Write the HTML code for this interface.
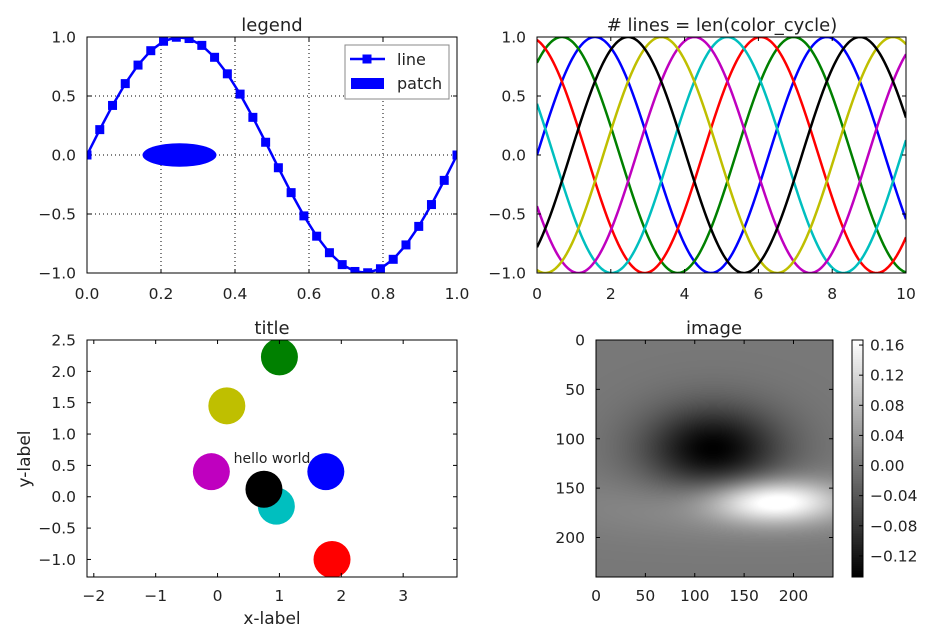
<!DOCTYPE html>
<html><head><meta charset="utf-8"><style>
html,body{margin:0;padding:0;background:#fff;}
body{width:930px;height:642px;position:relative;overflow:hidden;font-family:"DejaVu Sans","Liberation Sans",sans-serif;}
svg{position:absolute;left:0;top:0;}
canvas{position:absolute;}
text{font-family:"DejaVu Sans","Liberation Sans",sans-serif;fill:#222;}
</style></head><body>
<canvas id="heat" width="237" height="237" style="left:596px;top:340px;width:237px;height:237px"></canvas>
<canvas id="cbar" width="11" height="237" style="left:852px;top:340px;width:11px;height:237px"></canvas>
<svg id="fig" width="930" height="642"></svg>
<script>
// ---- data ----
const sineX = [0,0.0345,0.069,0.1034,0.1379,0.1724,0.2069,0.2414,0.2759,0.3103,0.3448,0.3793,0.4138,0.4483,0.4828,0.5172,0.5517,0.5862,0.6207,0.6552,0.6897,0.7241,0.7586,0.7931,0.8276,0.8621,0.8966,0.931,0.9655,1.0];
const sineY = [0,0.215,0.420,0.605,0.762,0.884,0.964,0.998,0.987,0.929,0.828,0.688,0.516,0.319,0.108,-0.108,-0.319,-0.516,-0.688,-0.828,-0.929,-0.987,-0.998,-0.964,-0.884,-0.762,-0.605,-0.420,-0.215,0];
const cycleColors = ['#0000ff','#008000','#ff0000','#00bfbf','#bf00bf','#bfbf00','#000000'];
const cyclePhases = [0,0.898,1.795,2.693,3.590,4.488,5.386];
const scatterX = [0.95,0.15,-0.1,1.75,0.75,1.85,1.0];
const scatterY = [-0.15,1.45,0.4,0.4,0.12,-1.0,2.23];
const scatterC = ['#00bfbf','#bfbf00','#bf00bf','#0000ff','#000000','#ff0000','#008000'];
const blobCx = [118,180,140];
const blobCy = [110,163,168];
const blobSx = [48,45,110];
const blobSy = [30,15,22];
const blobAmp = [-0.148,0.165,0.03];
const tlXTicks = [0,0.2,0.4,0.6,0.8,1.0];
const tlYTicks = [-1.0,-0.5,0.0,0.5,1.0];
const trXTicks = [0,2,4,6,8,10];
const blXTicks = [-2,-1,0,1,2,3];
const blYTicks = [-1.0,-0.5,0.0,0.5,1.0,1.5,2.0,2.5];
const imTicks = [0,50,100,150,200];
const cbTicks = [-0.12,-0.08,-0.04,0.00,0.04,0.08,0.12,0.16];

const FS=15.5;
const NS='http://www.w3.org/2000/svg';
const svg=document.getElementById('fig');
function el(tag,attrs,parent){const e=document.createElementNS(NS,tag);for(const k in attrs)e.setAttribute(k,attrs[k]);(parent||svg).appendChild(e);return e;}
function txt(s,x,y,anchor,size,parent){const t=el('text',{x:x,y:y,'text-anchor':anchor,'font-size':size||FS},parent);t.textContent=s;return t;}
function fmt(v,d){let s=v.toFixed(d);return s.replace('-','\u2212');}
function makeAxes(name,x0,x1,y0,y1,dx0,dx1,dy0,dy1,invertY){
  const g=el('g',{});
  
  
  const sx=v=>x0+(v-dx0)/(dx1-dx0)*(x1-x0);
  const sy=invertY?(v=>y0+(v-dy0)/(dy1-dy0)*(y1-y0)):(v=>y1-(v-dy0)/(dy1-dy0)*(y1-y0));
  return {g,sx,sy,x0,x1,y0,y1};
}
function frame(a){el('rect',{x:a.x0,y:a.y0,width:a.x1-a.x0,height:a.y1-a.y0,fill:'none',stroke:'#000','stroke-width':1},a.g);}
function xticks(a,ticks,d,labelY,grid){
  ticks.forEach(t=>{const x=a.sx(t);
    if(grid)el('line',{x1:x,x2:x,y1:a.y0,y2:a.y1,stroke:'#000','stroke-width':1,'stroke-dasharray':'1,3'},a.g);
    el('line',{x1:x,x2:x,y1:a.y1,y2:a.y1-4,stroke:'#000'},a.g);
    el('line',{x1:x,x2:x,y1:a.y0,y2:a.y0+4,stroke:'#000'},a.g);
    const lab=txt(typeof d==='number'?fmt(t,d):String(t).replace('-','\u2212'),x,labelY,'middle',FS,a.g);
    });
}
function yticks(a,ticks,d,grid){
  ticks.forEach(t=>{const y=a.sy(t);
    if(grid)el('line',{x1:a.x0,x2:a.x1,y1:y,y2:y,stroke:'#000','stroke-width':1,'stroke-dasharray':'1,3'},a.g);
    el('line',{x1:a.x0,x2:a.x0+4,y1:y,y2:y,stroke:'#000'},a.g);
    el('line',{x1:a.x1,x2:a.x1-4,y1:y,y2:y,stroke:'#000'},a.g);
    const lab=txt(typeof d==='number'?fmt(t,d):String(t),a.x0-11,y+5.5,'end',FS,a.g);
    });
}

// ---- top-left: legend ----
const A=makeAxes('legend-axes',87,457,37,273,0,1,-1,1);
xticks(A,tlXTicks,1,299,true); yticks(A,tlYTicks,1,true);
const ell=el('ellipse',{cx:A.sx(0.25),cy:A.sy(0),rx:A.sx(0.35)-A.sx(0.25),ry:A.sy(0)-A.sy(0.1),fill:'#0000ff'},A.g);

const cp=el('clipPath',{id:'clipA'});el('rect',{x:87,y:37,width:370,height:236},cp);
const lg=el('g',{'clip-path':'url(#clipA)'},A.g);
const pl=el('polyline',{points:sineX.map((x,i)=>A.sx(x)+','+A.sy(sineY[i])).join(' '),fill:'none',stroke:'#0000ff','stroke-width':2.5},lg);

sineX.forEach((x,i)=>{const m=el('rect',{x:A.sx(x)-4.5,y:A.sy(sineY[i])-4.5,width:9,height:9,fill:'#0000ff'},lg);
  });
frame(A);
const leg=el('g',{},A.g);

el('rect',{x:345,y:45,width:104,height:54,fill:'#fff',stroke:'#888'},leg);
el('line',{x1:350,x2:385,y1:59,y2:59,stroke:'#0000ff','stroke-width':2.5},leg);
el('rect',{x:362.5,y:54.5,width:9,height:9,fill:'#0000ff'},leg);
txt('line',397,65,'start',16,leg);
el('rect',{x:351,y:78,width:33,height:11,fill:'#0000ff'},leg);
txt('patch',397,89,'start',16,leg);
const t1=txt('legend',272,31,'middle',18);

// ---- top-right: color cycle ----
const B=makeAxes('color-cycle-axes',537,906,37,273,0,10,-1,1);
const cpB=el('clipPath',{id:'clipB'});el('rect',{x:537,y:37,width:369,height:236},cpB);
const lgB=el('g',{'clip-path':'url(#clipB)'},B.g);
cyclePhases.forEach((s,k)=>{const pts=[];for(let i=0;i<=200;i++){const x=i*10/200;pts.push(B.sx(x)+','+B.sy(Math.sin(x+s)));}
  const p=el('polyline',{points:pts.join(' '),fill:'none',stroke:cycleColors[k],'stroke-width':2.5},lgB);
  });
xticks(B,trXTicks,null,299,false); yticks(B,tlYTicks,1,false); frame(B);
const t2=txt('# lines = len(color_cycle)',722,31,'middle',18);

// ---- bottom-left: scatter ----
const C=makeAxes('scatter-axes',87,457,340,577,-2.11,3.87,-1.28,2.5);
const cpC=el('clipPath',{id:'clipC'});el('rect',{x:87,y:340,width:370,height:237},cpC);
const lgC=el('g',{'clip-path':'url(#clipC)'},C.g);
scatterX.forEach((x,i)=>{const c=el('circle',{cx:C.sx(x),cy:C.sy(scatterY[i]),r:18.5,fill:scatterC[i]},lgC);
  });
const hw=txt('hello world',272,463,'middle',14,C.g);
xticks(C,blXTicks,null,601,false); yticks(C,blYTicks,1,false); frame(C);
const t3=txt('title',272,334,'middle',18);
const xl=txt('x-label',272,624,'middle',17);
const yl=txt('y-label',0,0,'middle',17);yl.setAttribute('transform','translate(30,459) rotate(-90)');

// ---- bottom-right: image ----
const vmin=-0.148,vmax=0.1667;
function gray(v){let t=(v-vmin)/(vmax-vmin);t=Math.max(0,Math.min(1,t));return Math.round(t*255);}
const hc=document.getElementById('heat').getContext('2d');const img=hc.createImageData(237,237);
for(let j=0;j<237;j++)for(let i=0;i<237;i++){const X=i*240/237,Y=j*240/237;let v=0;
  for(let b=0;b<blobAmp.length;b++){const dx=(X-blobCx[b])/blobSx[b],dy=(Y-blobCy[b])/blobSy[b];v+=blobAmp[b]*Math.exp(-0.5*(dx*dx+dy*dy));}
  const g=gray(v),o=(j*237+i)*4;img.data[o]=img.data[o+1]=img.data[o+2]=g;img.data[o+3]=255;}
hc.putImageData(img,0,0);
const cc=document.getElementById('cbar').getContext('2d');
for(let j=0;j<237;j++){const v=vmax-(j/236)*(vmax-vmin);const g=gray(v);cc.fillStyle='rgb('+g+','+g+','+g+')';cc.fillRect(0,j,11,1);}
const D=makeAxes('image-axes',596,833,340,577,0,240,0,240,true);
xticks(D,imTicks,null,601,false); yticks(D,imTicks,null,false); frame(D);
const t4=txt('image',714,334,'middle',18);
const E=makeAxes('colorbar-axis',852,863,340,577,0,1,vmin,vmax);
cbTicks.forEach(t=>{const y=E.sy(t);el('line',{x1:863,x2:859,y1:y,y2:y,stroke:'#000'},E.g);
  const l=txt(fmt(t,2),870,y+5.5,'start',FS,E.g);});
frame(E);
</script>
</body></html>
